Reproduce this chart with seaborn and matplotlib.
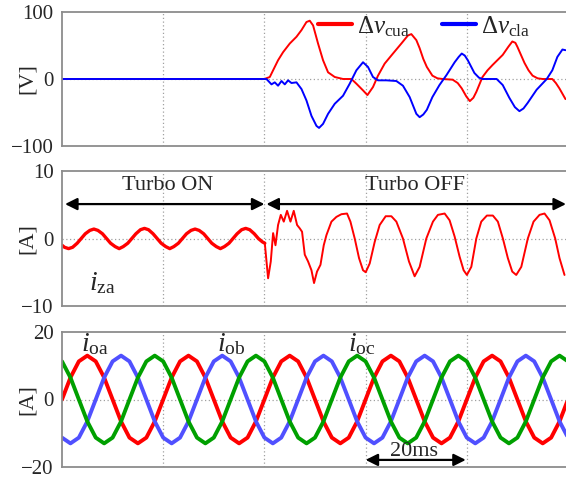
import numpy as np
import pandas as pd
import matplotlib
matplotlib.use("Agg")
import matplotlib.pyplot as plt
import seaborn as sns

# ---------------- data ----------------
# top panel: capacitor voltage deviations [V] vs time [ms]
t_cua = [0, 40.0, 41.07, 41.72, 42.70, 43.69, 45.02, 46.34, 47.33, 48.31, 48.96, 49.62,
         50.60, 51.59, 52.58, 53.90, 55.54, 57.20, 58.18, 59.49, 60.36, 61.46, 62.45,
         63.77, 65.41, 67.07, 68.37, 69.04, 70.03, 70.68, 71.4, 72.1, 73.2, 74.2, 75.2,
         77.2, 78.2, 79.0, 79.9, 80.6, 81.3, 81.9, 83.1, 84.1, 85.1, 87.1, 88.2, 89.0,
         89.6, 90.0, 90.7, 91.4, 92.2, 93.0, 94.0, 95.0, 96.9, 97.6, 98.3, 99.5]
v_cua = [0, 0, 3, 13, 28, 40, 53, 63, 73, 85, 87, 80,
         53, 28, 10, 3, 0, 0, -7, -17, -24, -12, 5,
         23, 38, 53, 65, 67, 58, 46, 30, 18, 5, 1, 0,
         -1, -6, -14, -26, -33, -28, -19, 3, 13, 21, 36, 48, 56,
         54, 48, 36, 24, 13, 5, 1, 0, 0, -6, -14, -30]
t_cla = [0, 40.0, 40.41, 41.40, 42.05, 42.70, 43.38, 44.03, 44.68, 45.35, 46.34, 47.33,
         48.31, 49.30, 50.29, 50.80, 51.59, 52.58, 53.90, 55.54, 56.86, 58.18, 59.49,
         60.47, 61.46, 62.45, 64.11, 66.08, 67.38, 68.71, 70.03, 70.68, 71.4, 72.1, 73.2,
         74.6, 76.0, 77.6, 78.4, 79.0, 79.6, 80.2, 81.5, 82.4, 83.1, 85.9, 87.1, 88.4,
         89.5, 90.4, 91.2, 92.0, 93.8, 95.8, 96.9, 97.9, 98.9, 99.5]
v_cla = [0, 0, 0, -8, -5, -10, -3, -8, -2, -6, -5, -15,
         -32, -55, -70, -73, -67, -52, -37, -25, -7, 13, 25,
         18, 3, -2, -2, -3, -10, -27, -52, -57, -53, -46, -27,
         -9, 6, 25, 33, 38, 35, 28, 9, 2, 0, 0, -9, -28,
         -42, -48, -44, -36, -16, 0, 13, 33, 44, 43]

# middle panel: circulating current i_za [A]
t_za_on = [0.0, 0.5, 1.3, 2.1, 3.0, 3.8, 4.6, 5.5, 6.3, 7.1, 8.0, 8.8, 9.6, 10.5, 11.3,
           12.1, 13.0, 13.8, 14.6, 15.5, 16.3, 17.1, 18.0, 18.8, 19.6, 20.5, 21.3, 22.1,
           23.0, 23.8, 24.6, 25.5, 26.3, 27.1, 28.0, 28.8, 29.6, 30.5, 31.3, 32.1, 33.0,
           33.8, 34.6, 35.5, 36.3, 37.1, 38.0, 38.8, 39.6, 40.08]
i_za_on = [-1.0, -1.3, -1.5, -1.3, -0.7, 0.0, 0.7, 1.2, 1.4, 1.2, 0.7, 0.0, -0.7, -1.2, -1.5,
           -1.2, -0.7, 0.0, 0.7, 1.3, 1.5, 1.3, 0.7, 0.0, -0.7, -1.2, -1.5,
           -1.2, -0.7, 0.0, 0.7, 1.2, 1.4, 1.2, 0.7, 0.0, -0.7, -1.2, -1.5,
           -1.2, -0.7, 0.0, 0.7, 1.3, 1.5, 1.3, 0.7, 0.0, -0.5, -0.7]
t_za_off = [40.08, 40.73, 41.26, 41.72, 42.19, 42.70, 43.24, 43.83, 44.48, 45.15, 45.80,
            46.46, 46.99, 47.44, 47.98, 48.63, 49.30, 49.81, 50.40, 51.08, 51.73, 52.26,
            53.25, 54.23, 55.22, 56.33, 57.00, 57.85, 58.70, 59.49, 60.02, 60.81, 61.80,
            62.78, 63.97, 65.09, 66.08, 67.38, 68.57, 69.69, 70.68, 72.00, 73.31, 74.29,
            75.62, 76.60, 77.59, 78.58, 79.37, 80.02, 80.89, 81.88, 82.86, 83.97, 85.15,
            86.14, 87.13, 88.11, 88.98, 89.77, 90.77, 92.06, 93.19, 94.37, 95.36, 96.35,
            97.47, 98.32, 99.31]
i_za_off = [-0.7, -5.9, -3.4, 0.8, -1.0, 2.0, 3.5, 2.5, 4.1, 2.5, 4.1,
            2.0, 1.5, 1.0, -2.4, -3.4, -4.7, -6.6, -4.9, -3.9, -1.0, 0.5,
            2.5, 3.2, 3.6, 3.7, 2.5, 0.0, -2.9, -4.7, -5.0, -3.7, -0.5,
            2.0, 3.3, 3.3, 2.5, 0.0, -3.4, -5.6, -4.2, 0.0, 2.5, 3.5,
            3.7, 2.7, 0.3, -2.7, -4.7, -5.4, -4.2, 0.0, 2.5, 3.4, 3.4,
            2.5, 0.0, -2.9, -4.9, -5.4, -4.2, 0.0, 2.5, 3.5, 3.7, 2.7,
            0.0, -2.9, -5.4]

# bottom panel: output currents [A], sampled every 1/12 period (20 ms period)
t_o = [0.0, 1.67, 3.33, 5.0, 6.67, 8.33, 10.0, 11.67, 13.33, 15.0, 16.67, 18.33,
       20.0, 21.67, 23.33, 25.0, 26.67, 28.33, 30.0, 31.67, 33.33, 35.0, 36.67, 38.33,
       40.0, 41.67, 43.33, 45.0, 46.67, 48.33, 50.0, 51.67, 53.33, 55.0, 56.67, 58.33,
       60.0, 61.67, 63.33, 65.0, 66.67, 68.33, 70.0, 71.67, 73.33, 75.0, 76.67, 78.33,
       80.0, 81.67, 83.33, 85.0, 86.67, 88.33, 90.0, 91.67, 93.33, 95.0, 96.67, 98.33,
       100.0]
i_oa = [0, 6.5, 11.3, 13, 11.3, 6.5, 0, -6.5, -11.3, -13, -11.3, -6.5,
        0, 6.5, 11.3, 13, 11.3, 6.5, 0, -6.5, -11.3, -13, -11.3, -6.5,
        0, 6.5, 11.3, 13, 11.3, 6.5, 0, -6.5, -11.3, -13, -11.3, -6.5,
        0, 6.5, 11.3, 13, 11.3, 6.5, 0, -6.5, -11.3, -13, -11.3, -6.5,
        0, 6.5, 11.3, 13, 11.3, 6.5, 0, -6.5, -11.3, -13, -11.3, -6.5, 0]
i_ob = [-11.3, -13, -11.3, -6.5, 0, 6.5, 11.3, 13, 11.3, 6.5, 0, -6.5,
        -11.3, -13, -11.3, -6.5, 0, 6.5, 11.3, 13, 11.3, 6.5, 0, -6.5,
        -11.3, -13, -11.3, -6.5, 0, 6.5, 11.3, 13, 11.3, 6.5, 0, -6.5,
        -11.3, -13, -11.3, -6.5, 0, 6.5, 11.3, 13, 11.3, 6.5, 0, -6.5,
        -11.3, -13, -11.3, -6.5, 0, 6.5, 11.3, 13, 11.3, 6.5, 0, -6.5, -11.3]
i_oc = [11.3, 6.5, 0, -6.5, -11.3, -13, -11.3, -6.5, 0, 6.5, 11.3, 13,
        11.3, 6.5, 0, -6.5, -11.3, -13, -11.3, -6.5, 0, 6.5, 11.3, 13,
        11.3, 6.5, 0, -6.5, -11.3, -13, -11.3, -6.5, 0, 6.5, 11.3, 13,
        11.3, 6.5, 0, -6.5, -11.3, -13, -11.3, -6.5, 0, 6.5, 11.3, 13,
        11.3, 6.5, 0, -6.5, -11.3, -13, -11.3, -6.5, 0, 6.5, 11.3, 13, 11.3]

top_yticks = [-100, 0, 100]
mid_yticks = [-10, 0, 10]
bot_yticks = [-20, 0, 20]
grid_times = [0, 20, 40, 60, 80, 100]

# ---------------- style ----------------
sns.set_style("white")
plt.rcParams["font.family"] = ["Liberation Serif", "DejaVu Serif"]
plt.rcParams["mathtext.fontset"] = "custom"
plt.rcParams["mathtext.rm"] = "Liberation Serif"
plt.rcParams["mathtext.it"] = "Liberation Serif:italic"
plt.rcParams["axes.unicode_minus"] = True

W, H = 566, 479
fig = plt.figure(figsize=(W / 100, H / 100), dpi=100)

def px_axes(left, top, right, bottom):
    return fig.add_axes([left / W, 1 - bottom / H, (right - left) / W, (bottom - top) / H])

ax1 = px_axes(62, 12, 568, 146)
ax2 = px_axes(62, 171, 568, 306)
ax3 = px_axes(62, 332, 568, 467)

SP = "#8c8c8c"
for ax, yt in [(ax1, top_yticks), (ax2, mid_yticks), (ax3, bot_yticks)]:
    ax.set_xlim(0, 100)
    ax.set_ylim(yt[0], yt[-1])
    ax.set_yticks(yt)
    ax.set_yticklabels([str(v).replace("-", "\u2212") for v in yt], fontsize=15)
    ax.set_xticks(grid_times)
    ax.set_xticklabels([])
    for s in ["left", "top", "bottom"]:
        ax.spines[s].set_color(SP)
        ax.spines[s].set_linewidth(1.3)
    ax.spines["right"].set_visible(False)
    ax.tick_params(axis="y", direction="out", length=5, width=1.2, color=SP, pad=1)
    ax.tick_params(axis="x", length=0)
    for g in grid_times[1:-1]:
        ax.axvline(g, color="#a0a0a0", lw=0.9, ls=(0, (1, 2)), zorder=0)
    ax.axhline(0, color="#a0a0a0", lw=0.9, ls=(0, (1, 2)), zorder=0)
    ax.patch.set_alpha(0)

ax3.tick_params(axis="x", direction="out", length=6, width=1.2, color=SP)

# ---------------- top panel ----------------
sns.lineplot(x=t_cua, y=v_cua, ax=ax1, color="#ff0000", lw=1.4, estimator=None, sort=False,
             label=r"$\Delta v_{\mathrm{cua}}$")
sns.lineplot(x=t_cla, y=v_cla, ax=ax1, color="#0000ff", lw=1.4, estimator=None, sort=False,
             label=r"$\Delta v_{\mathrm{cla}}$")
leg = ax1.legend(loc="upper left", bbox_to_anchor=(318 / W, 1 - 14 / H), bbox_transform=fig.transFigure,
                 ncol=2, frameon=False, fontsize=18, handlelength=1.35, handletextpad=0.2,
                 columnspacing=1.3, borderaxespad=0, borderpad=0)
for lh in leg.get_lines():
    lh.set_linewidth(3)

# ---------------- middle panel ----------------
sns.lineplot(x=t_za_on, y=i_za_on, ax=ax2, color="#ff0000", lw=2.4, estimator=None, sort=False)
sns.lineplot(x=t_za_off, y=i_za_off, ax=ax2, color="#ff0000", lw=1.4, estimator=None, sort=False)
ax2.annotate("", xy=(0.6, 5.1), xytext=(40.0, 5.1),
             arrowprops=dict(arrowstyle="<|-|>", color="black", lw=1.6, mutation_scale=18,
                             shrinkA=0, shrinkB=0))
ax2.annotate("", xy=(40.4, 5.1), xytext=(99.6, 5.1),
             arrowprops=dict(arrowstyle="<|-|>", color="black", lw=1.6, mutation_scale=18,
                             shrinkA=0, shrinkB=0))
ax2.text(20.9, 7.8, "Turbo ON", fontsize=16, ha="center", va="center")
ax2.text(69.7, 7.8, "Turbo OFF", fontsize=16, ha="center", va="center")
ax2.text(5.3, -6.6, r"$i_{\mathrm{za}}$", fontsize=20, ha="left", va="center")

# ---------------- bottom panel ----------------
sns.lineplot(x=t_o, y=i_oa, ax=ax3, color="#ff0000", lw=2.8, estimator=None, sort=False)
sns.lineplot(x=t_o, y=i_ob, ax=ax3, color="#5050ff", lw=2.8, estimator=None, sort=False)
sns.lineplot(x=t_o, y=i_oc, ax=ax3, color="#00a000", lw=2.8, estimator=None, sort=False)
ax3.text(3.7, 16.3, r"$i_{\mathrm{oa}}$", fontsize=20, ha="left", va="center")
ax3.text(30.6, 16.3, r"$i_{\mathrm{ob}}$", fontsize=20, ha="left", va="center")
ax3.text(56.5, 16.3, r"$i_{\mathrm{oc}}$", fontsize=20, ha="left", va="center")
ax3.annotate("", xy=(60.0, -17.9), xytext=(79.8, -17.9),
             arrowprops=dict(arrowstyle="<|-|>", color="black", lw=1.6, mutation_scale=18,
                             shrinkA=0, shrinkB=0))
ax3.text(69.5, -15.3, "20ms", fontsize=16, ha="center", va="center")

for ax, lab in [(ax1, "[V]"), (ax2, "[A]"), (ax3, "[A]")]:
    ax.set_xlabel("")
    ax.set_ylabel(lab, fontsize=16, labelpad=0)
    ax.yaxis.set_label_coords(-0.05, 0.5)

fig.savefig("out.png", dpi=100)
